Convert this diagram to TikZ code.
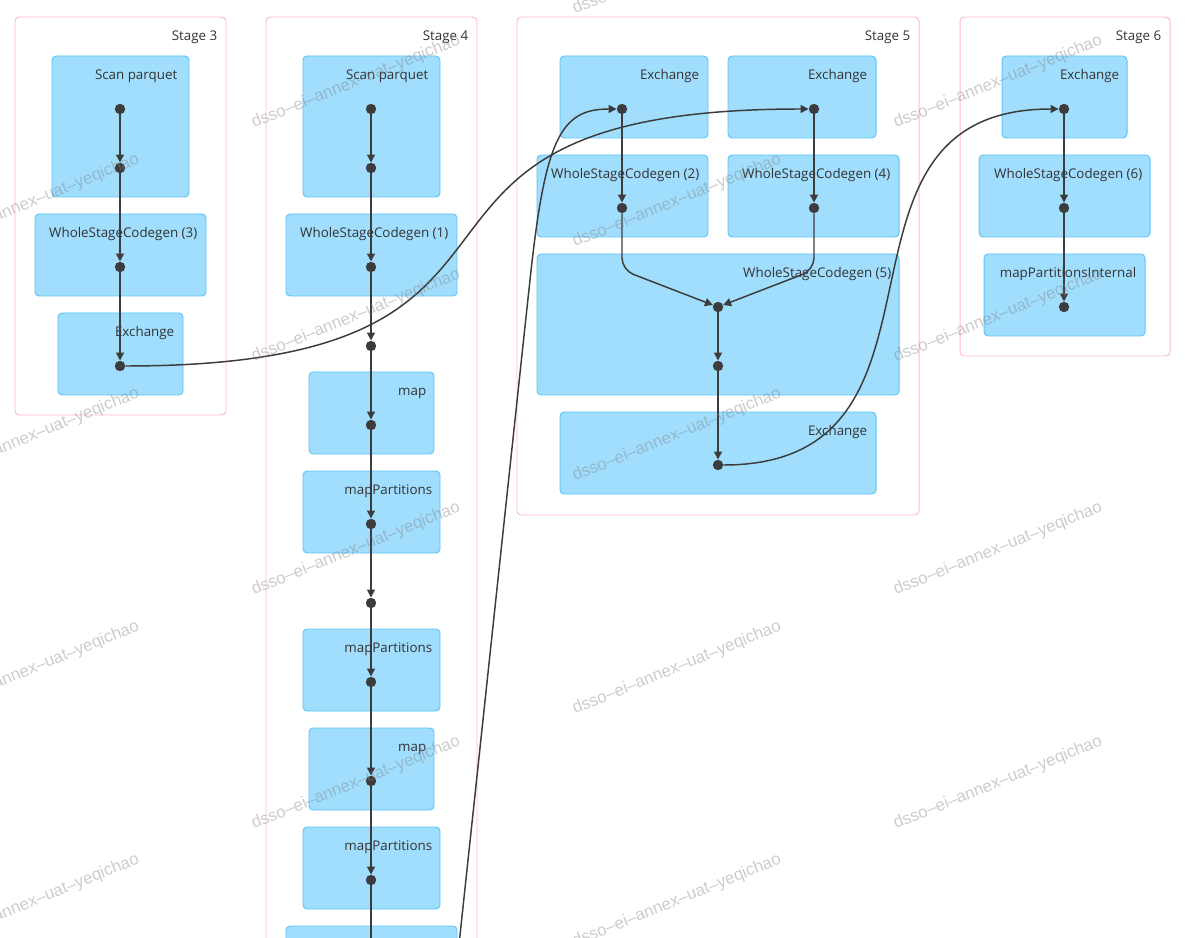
\documentclass[tikz,border=0pt]{standalone}
\usepackage{fontspec}
\newfontfamily\uifont{Open Sans}
\newfontfamily\wmfont{Liberation Sans}
\usetikzlibrary{arrows.meta,positioning,fit}
\definecolor{boxfill}{HTML}{A1DEFD}
\definecolor{boxline}{HTML}{5CC6F7}
\definecolor{stageline}{HTML}{FFBACA}
\definecolor{edgegray}{HTML}{3C3C3C}
\definecolor{txtgray}{HTML}{333333}
\tikzset{
	stagebox/.style={draw=stageline, line width=0.7pt, rounded corners=3pt, fill=white, inner sep=0pt},
	opbox/.style={draw=boxline, line width=0.7pt, rounded corners=3pt, fill=boxfill, inner sep=0pt},
	lbl/.style={anchor=base east, font=\uifont\fontsize{9.5}{11}\selectfont, text=txtgray, inner sep=0pt},
	dot/.style={circle, fill=edgegray, inner sep=0pt, minimum size=0.26cm},
	edge/.style={draw=edgegray, line width=1.05pt, -{Triangle[length=0.2cm,width=0.2cm]}},
	wmark/.style={font=\wmfont\fontsize{12}{14}\selectfont, text=black!50, opacity=0.4, rotate=22},
}
\begin{document}
\begin{tikzpicture}[x=0.025cm, y=-0.025cm]
	\useasboundingbox (0,0) rectangle (1198,938);
	\clip (0,0) rectangle (1198,938);
	\foreach \n/\xa/\ya/\xb/\yb/\t in {st3/15/17/226/415/Stage 3, st4/266/17/477/1100/Stage 4, st5/517/17/919/515/Stage 5, st6/960/17/1170/356/Stage 6} {
		\node[stagebox, fit={(\xa,\ya) (\xb,\yb)}] (\n) {};
		\node[lbl] (\n-t) at ([shift={(-9,24)}]\n.north east) {\t};
	}
	\foreach \n/\xa/\ya/\xb/\yb/\dx/\t in {
		sc3/52/56/189/197/12/Scan parquet,
		wsc3/35/214/206/296/9/WholeStageCodegen (3),
		ex3/58/313/183/395/9/Exchange,
		sc4/303/56/440/197/12/Scan parquet,
		wsc1/286/214/457/296/9/WholeStageCodegen (1),
		map1/309/372/434/454/8/map,
		mp1/303/471/440/553/8/mapPartitions,
		mp2/303/629/440/711/8/mapPartitions,
		map2/309/728/434/810/8/map,
		mp3/303/827/440/909/8/mapPartitions,
		ex5a/560/56/708/138/9/Exchange,
		ex5b/728/56/876/138/9/Exchange,
		wsc2/537/155/708/237/9/WholeStageCodegen (2),
		wsc4/728/155/899/237/9/WholeStageCodegen (4),
		wsc5/537/254/899/395/8/WholeStageCodegen (5),
		ex5/560/412/876/494/9/Exchange,
		ex6/1002/56/1127/138/8/Exchange,
		wsc6/979/155/1150/237/8/WholeStageCodegen (6),
		mpi6/984/254/1145/336/9/mapPartitionsInternal} {
		\node[opbox, fit={(\xa,\ya) (\xb,\yb)}] (\n) {};
		\node[lbl] (\n-t) at ([shift={(-\dx,24)}]\n.north east) {\t};
	}
	\node[opbox, fit={(286,926) (457,1060)}] (nx4) {};
	\foreach \n/\x/\y in {
		a3/120/109, b3/120/168, c3/120/267, d3/120/366,
		a4/371/109, b4/371/168, c4/371/267, d4/371/346, e4/371/425,
		f4/371/524, g4/371/603, h4/371/682, i4/371/781, j4/371/880,
		x5a/622/109, x5b/814/109, w5a/622/208, w5b/814/208,
		m5/718/307, n5/718/366, o5/718/465,
		a6/1064/109, b6/1064/208, c6/1064/307} {
		\node[dot] (\n) at (\x,\y) {};
	}
	\coordinate (k4) at (371,990);
	\coordinate (s4out) at (452,1010);
	\foreach \a/\b in {a3/b3, b3/c3, c3/d3, a4/b4, b4/c4, c4/d4, d4/e4, e4/f4, f4/g4, g4/h4, h4/i4, i4/j4, j4/k4,
		x5a/w5a, x5b/w5b, m5/n5, n5/o5, a6/b6, b6/c6} {
		\draw[edge] (\a) -- (\b);
	}
	\draw[edge, rounded corners=0.3cm] (w5a) -- ++(0,62) -- (m5);
	\draw[edge, rounded corners=0.3cm] (w5b) -- ++(0,62) -- (m5);
	\draw[edge] (d3) .. controls +(490,0) and +(-490,0) .. (x5b);
	\draw[edge] (o5) .. controls +(260,0) and +(-260,0) .. (a6);
	\draw[edge] (s4out) .. controls (478,767) and (516,410) .. (530,280) .. controls (545,140) and (560,109) .. (x5a);
	\foreach \x in {35,677} \foreach \y [count=\i] in {-32,201,435,668,901} {
		\node[wmark] (wm\x-\i) at (\x,\y) {dsso–ei–annex–uat–yeqichao};
	}
	\foreach \x in {356,998} \foreach \y [count=\i] in {82,316,549,783} {
		\node[wmark] (wm\x-\i) at (\x,\y) {dsso–ei–annex–uat–yeqichao};
	}
\end{tikzpicture}
\end{document}
